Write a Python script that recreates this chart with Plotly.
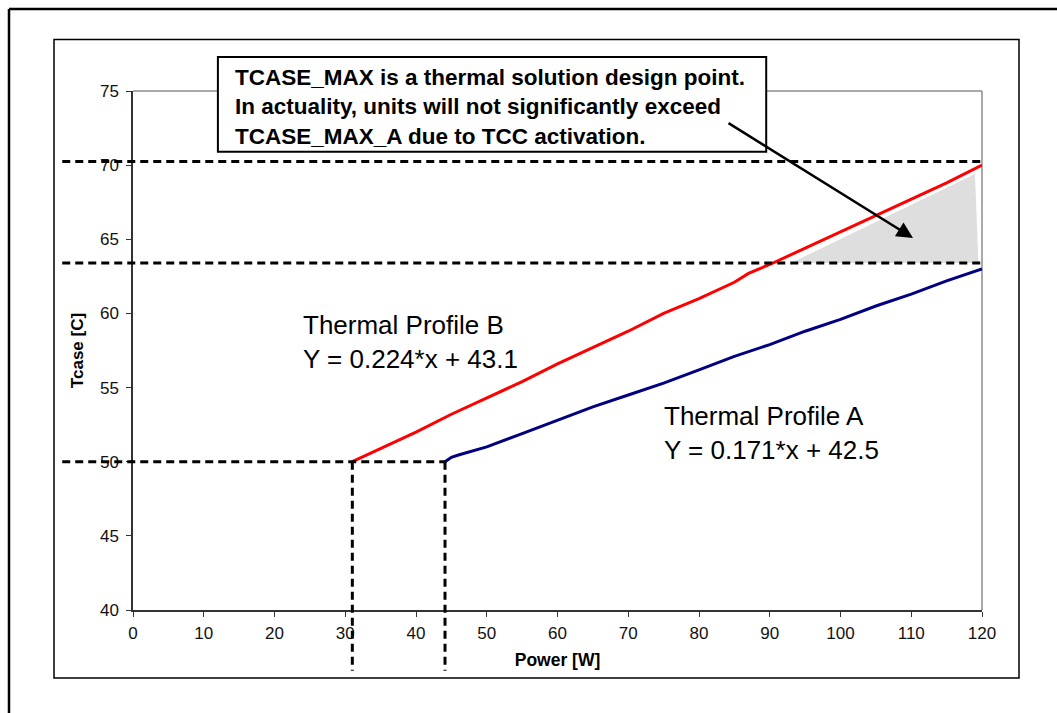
import plotly.graph_objects as go

# Thermal profile data (Power [W] vs Tcase [C])
profile_b_power = [31, 35, 40, 45, 50, 55, 60, 65, 70, 75, 80, 85, 87, 90, 95, 100, 105, 110, 115, 120]
profile_b_tcase = [50.0, 50.9, 52.0, 53.2, 54.3, 55.4, 56.6, 57.7, 58.8, 60.0, 61.0, 62.1, 62.7,
                   63.3, 64.4, 65.5, 66.6, 67.7, 68.8, 70.0]

profile_a_power = [44.1, 45, 46, 50, 55, 60, 65, 70, 75, 80, 85, 90, 95, 100, 105, 110, 115, 120]
profile_a_tcase = [50.0, 50.3, 50.45, 51.0, 51.9, 52.8, 53.7, 54.5, 55.3, 56.2, 57.1, 57.9,
                   58.8, 59.6, 60.5, 61.3, 62.2, 63.0]

# Region between TCASE_MAX_A and profile B above it
excess_power = [93.0, 119.0, 119.5]
excess_tcase = [63.4, 69.4, 63.4]

# Reference levels
tcase_max = 70.25
tcase_max_a = 63.4
tcase_start = 50.0
power_start_b = 31.0
power_start_a = 44.1

x_ticks = [0, 10, 20, 30, 40, 50, 60, 70, 80, 90, 100, 110, 120]
y_ticks = [40, 45, 50, 55, 60, 65, 70, 75]

X_RANGE = [0, 120]
Y_RANGE = [40, 75]

# Figure geometry (px)
W, H = 1057, 713
ML, MR, MT, MB = 133, 75, 91, 103
PW, PH = W - ML - MR, H - MT - MB

FONT = "Liberation Sans, Arial, sans-serif"


def fx(v):
    return (v - X_RANGE[0]) / (X_RANGE[1] - X_RANGE[0])


def fy(v):
    return (v - Y_RANGE[0]) / (Y_RANGE[1] - Y_RANGE[0])


def px_x(p):
    return (p - ML) / PW


def px_y(p):
    return (MT + PH - p) / PH


fig = go.Figure()

fig.add_trace(go.Scatter(
    x=excess_power, y=excess_tcase, mode="none", fill="toself",
    fillcolor="#dedede", hoverinfo="skip"))

fig.add_trace(go.Scatter(
    x=profile_a_power, y=profile_a_tcase, mode="lines",
    line=dict(color="#000080", width=3), name="Thermal Profile A"))

fig.add_trace(go.Scatter(
    x=profile_b_power, y=profile_b_tcase, mode="lines",
    line=dict(color="#ff0000", width=3), name="Thermal Profile B"))

shapes = []

# plot-area frame (top / right)
for x0, y0, x1, y1 in [(0, 1, 1, 1), (1, 0, 1, 1)]:
    shapes.append(dict(type="line", xref="x domain", yref="y domain",
                       x0=x0, y0=y0, x1=x1, y1=y1,
                       line=dict(color="#8c8c8c", width=1.5), layer="below"))

dash = dict(color="black", width=3, dash="8px,5px")
guide_left = -10.0     # power units, left end of the horizontal guides
guide_bottom = 35.9    # tcase units, lower end of the vertical guides

for level, right in [(tcase_max, X_RANGE[1]), (tcase_max_a, X_RANGE[1]), (tcase_start, power_start_a)]:
    shapes.append(dict(type="line", xref="x domain", yref="y",
                       x0=fx(guide_left), x1=fx(right), y0=level, y1=level, line=dash))

for p in [power_start_b, power_start_a]:
    shapes.append(dict(type="line", xref="x", yref="y domain",
                       x0=p, x1=p, y0=fy(tcase_start), y1=fy(guide_bottom), line=dash))

# note box
shapes.append(dict(type="rect", xref="x domain", yref="y domain",
                   x0=fx(12.0), x1=fx(89.5), y0=fy(70.9), y1=fy(77.3),
                   line=dict(color="black", width=2), fillcolor="white"))

# page frames
shapes.append(dict(type="rect", xref="paper", yref="paper",
                   x0=px_x(54), x1=px_x(1019), y0=px_y(678), y1=px_y(39.5),
                   line=dict(color="black", width=1.5), layer="below"))
shapes.append(dict(type="line", xref="paper", yref="paper",
                   x0=px_x(9), x1=px_x(9), y0=px_y(9), y1=px_y(720),
                   line=dict(color="black", width=2.5)))
shapes.append(dict(type="line", xref="paper", yref="paper",
                   x0=px_x(9), x1=px_x(1070), y0=px_y(9), y1=px_y(9),
                   line=dict(color="black", width=2.5)))

annotations = [
    dict(xref="x domain", yref="y domain", x=fx(14.2), y=fy(73.95),
         xanchor="left", yanchor="middle", align="left", showarrow=False,
         text="TCASE_MAX is a thermal solution design point.<br>"
              "In actuality, units will not significantly exceed<br>"
              "TCASE_MAX_A due to TCC activation.",
         font=dict(family=FONT, size=22.5, color="black", weight="bold")),
    dict(xref="x", yref="y", x=110.25, y=65.09, axref="x", ayref="y",
         ax=83.96, ay=72.9, text="", showarrow=True, arrowhead=2,
         arrowsize=1.3, arrowwidth=2.5, arrowcolor="black",
         standoff=0, startstandoff=0),
    dict(xref="x", yref="y", x=23.8, y=58.04, xanchor="left", yanchor="middle",
         align="left", showarrow=False,
         text="Thermal Profile B<br>Y = 0.224*x + 43.1",
         font=dict(family=FONT, size=26, color="black")),
    dict(xref="x", yref="y", x=74.7, y=51.97, xanchor="left", yanchor="middle",
         align="left", showarrow=False,
         text="Thermal Profile A<br>Y = 0.171*x + 42.5",
         font=dict(family=FONT, size=26, color="black")),
]

fig.update_layout(
    width=W, height=H,
    margin=dict(l=ML, r=MR, t=MT, b=MB),
    plot_bgcolor="white", paper_bgcolor="white",
    showlegend=False,
    font=dict(family=FONT, color="black"),
    shapes=shapes,
    annotations=annotations,
    xaxis=dict(
        range=X_RANGE, tickmode="array", tickvals=x_ticks,
        ticks="outside", ticklen=5, tickwidth=1, tickcolor="#333",
        showline=True, linecolor="#333", linewidth=1.5,
        showgrid=False, zeroline=False, ticklabelstandoff=2,
        tickfont=dict(family=FONT, size=17, color="#111"),
        title=dict(text="Power [W]", standoff=12,
                   font=dict(family=FONT, size=17.5, color="black", weight="bold")),
    ),
    yaxis=dict(
        range=Y_RANGE, tickmode="array", tickvals=y_ticks,
        ticks="outside", ticklen=5, tickwidth=1, tickcolor="#333",
        showline=True, linecolor="#333", linewidth=1.5,
        showgrid=False, zeroline=False, ticklabelstandoff=4,
        tickfont=dict(family=FONT, size=17, color="#111"),
        title=dict(text="Tcase [C]", standoff=12,
                   font=dict(family=FONT, size=17, color="black", weight="bold")),
    ),
)

fig.write_html("out.html")
